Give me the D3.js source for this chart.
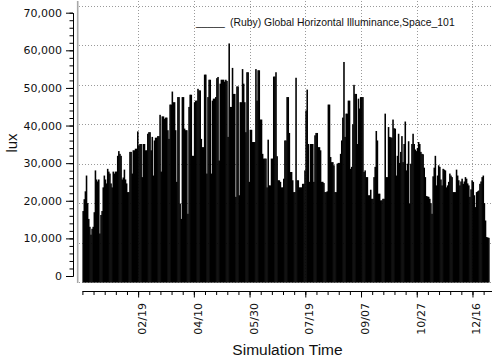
<!DOCTYPE html>
<html><head><meta charset="utf-8">
<script src="https://cdnjs.cloudflare.com/ajax/libs/d3/7.8.5/d3.min.js"></script>
<style>
html,body{margin:0;padding:0;background:#fff;}
svg{display:block;}
</style></head>
<body><svg id="c" width="492" height="358"></svg>
<script>
// Daily peak global horizontal illuminance (thousand lux), day 0 = Jan 1
const dailyPeakK = [
18,21,23,27,20,16,14,12,13.5,14,17.7,28.3,26,25.5,26,12.3,17,18,24,27,
26,25,28.7,28,27.5,25,24,28,27.5,28,28,32,33.2,32.5,32,26,26.5,28.5,26,25,
22.8,22.8,33,33,27.5,33.4,33.4,33.8,33.8,38.2,34.6,35,35,26.6,35,35,33.4,33.4,37.6,38,
38,33.4,36.8,27,35.9,36.6,36.6,37,37,42.4,28,42,42,41.4,41.7,41.7,38.5,36.3,45,45,
48.3,45.6,45.6,38.5,25.4,46.9,46.9,19.9,16,46.9,46.9,38.9,38.5,38.5,17.3,44.4,47.5,47.5,32,32,
45.6,46,46,49,48.6,48.6,36.3,34.2,34.2,52.6,52.6,27.5,46.9,51.3,51.3,27.5,46,46.5,46.5,46.9,
51.7,52,30.8,50.3,51.3,51.3,51.3,50.8,51.3,51,36.8,60.5,44.4,44.4,54.3,47.7,47.7,21.6,49.6,49.6,
22,45.6,45.6,54,50.3,45.6,38,53.2,53.2,25.4,38.6,38.6,35.5,35.5,35.5,54,46,53.7,53.7,41.2,
41.2,32.5,31.3,31.3,31.3,24,36.1,24.5,24.5,31.3,31.3,52.1,52.1,53.2,31.9,25.8,25.8,25.4,24,24,
26.2,35.9,35.9,46.9,46.9,37.8,27.9,27.9,25.8,22.8,22.8,51.8,25.8,25.8,24,24,24,24.9,24.9,28.3,
43.5,48.8,35,25.4,35,35,35,25.4,37.2,37.8,37.8,34.2,34.2,33.4,25.4,25.4,25.1,22.8,22.8,23,
45,45,31.7,30.4,30.4,29.6,22.8,22.8,30,30.2,30.2,32.5,35.9,41.7,55.8,36.8,42.7,42.7,46,46,
28.7,29.2,40,50,47.7,47.7,35,46.5,44,46.9,46.9,46.9,27.9,28.3,26.6,26.6,22,22,23.4,21.1,
21.1,26.6,29.2,38.3,35.9,22.4,22.4,20.7,20.7,21.1,21.1,42.7,26.6,26.6,39.3,36.8,36.7,36.6,41.2,39,
38.9,27,32,37.6,30.2,33,37,30.4,35,40.7,28.3,30,35.7,19.9,30,35,37.6,35,33.6,33.2,
34,35.5,35,33,32.5,32.4,29,26.6,21.8,21.7,21.6,21.1,20,17.3,26.8,29,32,24.5,27,29.6,
29.2,26,24.5,28.7,28.5,28.3,24,24.5,25.4,27.5,27,26.6,22.8,22.8,22.8,28.5,27,25.8,24.5,25.5,
26.2,24.9,25.5,26.6,26.2,25,24.5,21.6,23.5,25.8,25.4,22,19,22.8,23,23.2,24.9,25.5,26.6,27,
20,15.6,11.4,11.3,11.2
];
const xTickDays = [50,100,150,200,250,300,350];
const xTickLabels = ["02/19","04/10","05/30","07/19","09/07","10/27","12/16"];
const yTickValues = [0,10000,20000,30000,40000,50000,60000,70000];
const legendLabel = "(Ruby) Global Horizontal Illuminance,Space_101";
const xTitle = "Simulation Time";
const yTitle = "lux";

const svg = d3.select("#c");

const x = d3.scaleLinear().domain([0, 365]).range([82.4, 489.2]);
const yPlot = d3.scaleLinear().domain([0, 70000]).range([282, 6]);
const yAxisScale = d3.scaleLinear().domain([0, 70000]).range([276, 12.7]);

// frame (left)
svg.append("line").attr("x1",77.7).attr("x2",77.7).attr("y1",1).attr("y2",283)
  .attr("stroke","#a8a8a8").attr("stroke-width",1.6);

// grid
const grid = svg.append("g").attr("stroke","#9a9a9a").attr("stroke-width",1).attr("stroke-dasharray","1,2");
grid.selectAll("line.h").data(yTickValues).join("line")
  .attr("x1",79).attr("x2",492)
  .attr("y1",d=>Math.round(yPlot(d))+0.5).attr("y2",d=>Math.round(yPlot(d))+0.5);
grid.selectAll("line.v").data(xTickDays).join("line")
  .attr("y1",1).attr("y2",283)
  .attr("x1",d=>Math.round(x(d))+0.5).attr("x2",d=>Math.round(x(d))+0.5);

// data bars
const step = x(1)-x(0);
svg.append("g").selectAll("rect").data(dailyPeakK).join("rect")
  .attr("x",(d,i)=>x(i))
  .attr("width",step+0.45)
  .attr("y",d=>yPlot(d*1000))
  .attr("height",d=>yPlot(0)-yPlot(d*1000)+0.5)
  .attr("fill","#000");

// y axis
const yAxisG = svg.append("g").attr("transform","translate(73,0)");
yAxisG.call(d3.axisLeft(yAxisScale).tickValues(d3.range(0,70001,2000)).tickSize(3.5).tickSizeOuter(0).tickFormat(""));
yAxisG.append("g").call(d3.axisLeft(yAxisScale).tickValues(yTickValues).tickSize(7).tickSizeOuter(0).tickPadding(4).tickFormat(d3.format(",")));
yAxisG.selectAll("text").attr("font-family","DejaVu Sans, sans-serif").attr("font-size",11).attr("fill","#111");
yAxisG.selectAll("path.domain").attr("stroke","#000");
yAxisG.selectAll("line").attr("stroke","#000");

// x axis
const xAxisG = svg.append("g").attr("transform","translate(0,291.5)");
xAxisG.append("line").attr("x1",x(0)).attr("x2",492).attr("stroke","#000");
xAxisG.append("g").call(d3.axisBottom(x).tickValues(d3.range(0,366,10)).tickSize(3.5).tickSizeOuter(0).tickFormat(""))
  .select("path.domain").remove();
const xMaj = xAxisG.append("g").call(d3.axisBottom(x).tickValues(xTickDays).tickSize(6).tickSizeOuter(0).tickFormat((d,i)=>xTickLabels[i]));
xMaj.select("path.domain").remove();
xMaj.selectAll("text")
  .attr("transform","rotate(-90)")
  .attr("text-anchor","end")
  .attr("x",-11.5).attr("y",7.5).attr("dy",0)
  .attr("font-family","DejaVu Sans, sans-serif").attr("font-size",11).attr("fill","#111");
xAxisG.selectAll("line").attr("stroke","#000");

// titles
svg.append("text").attr("x",287.5).attr("y",355).attr("text-anchor","middle")
  .attr("font-family","Liberation Sans, Arial, sans-serif").attr("font-size",15.5).attr("fill","#111").text(xTitle);
svg.append("text").attr("transform","translate(17,143) rotate(-90)").attr("text-anchor","middle")
  .attr("font-family","Liberation Sans, Arial, sans-serif").attr("font-size",15).attr("fill","#111").text(yTitle);

// legend
svg.append("text").attr("x",196).attr("y",25.5)
  .attr("font-family","Liberation Sans, Arial, sans-serif").attr("font-size",10.4).attr("fill","#111").text("_____");
svg.append("text").attr("x",230).attr("y",25.5)
  .attr("font-family","Liberation Sans, Arial, sans-serif").attr("font-size",10.4).attr("fill","#111").text(legendLabel);
</script></body></html>
